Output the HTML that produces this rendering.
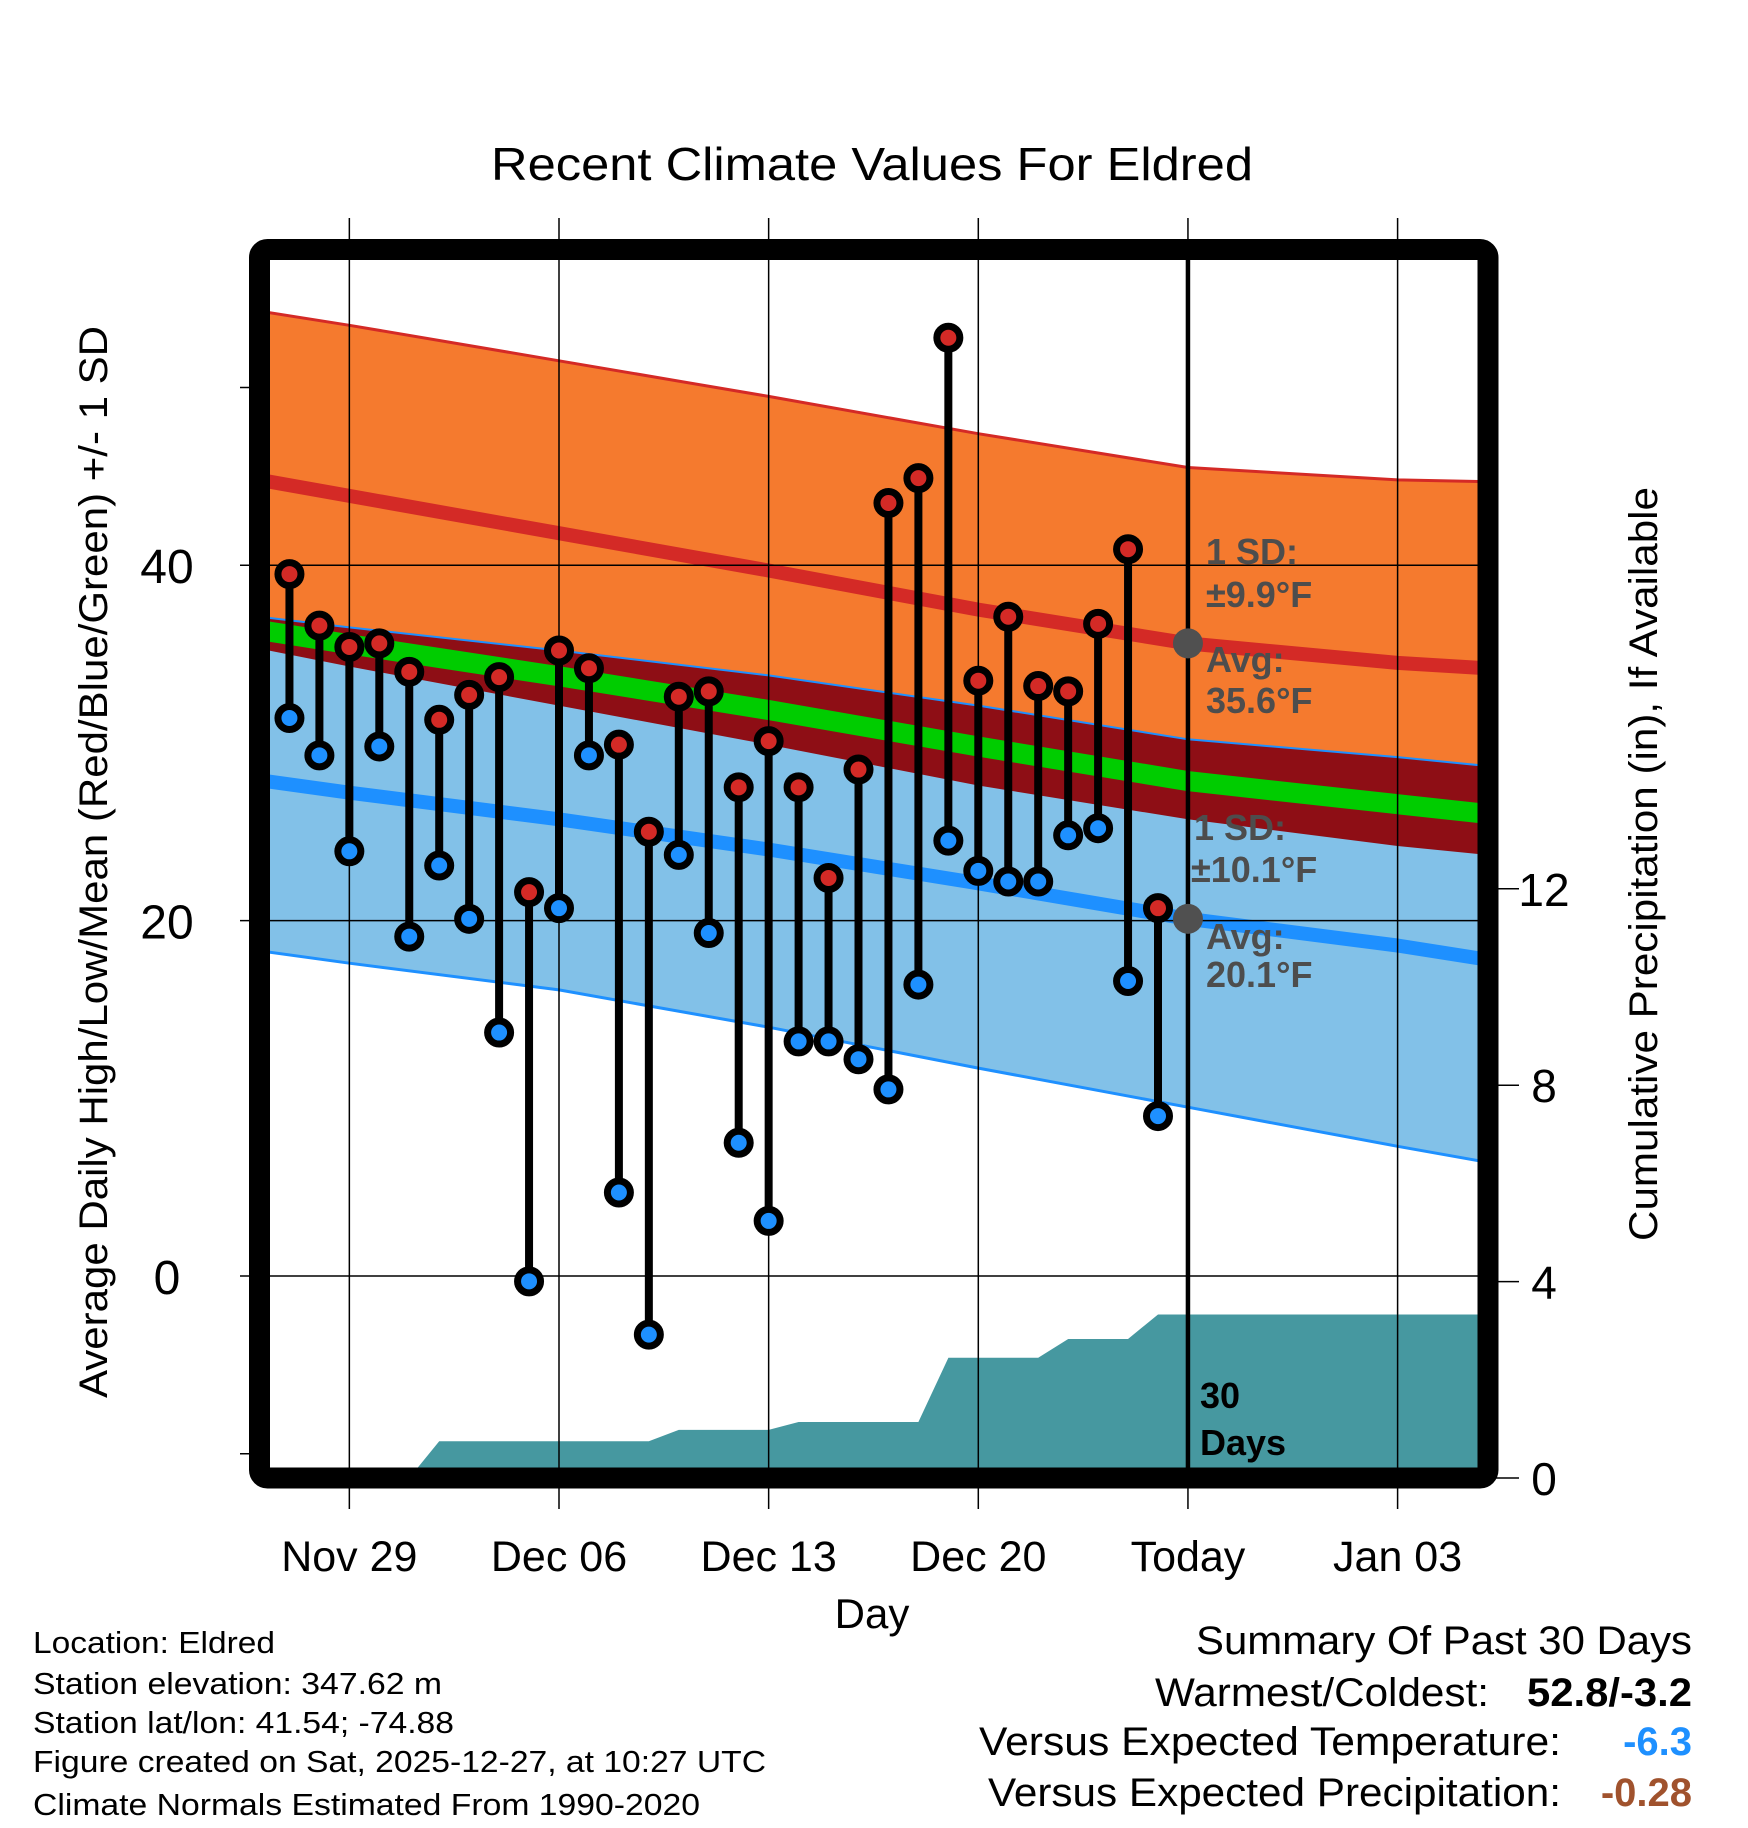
<!DOCTYPE html>
<html><head><meta charset="utf-8"><style>
html,body{margin:0;padding:0;background:#fff;}
svg{display:block;font-family:"Liberation Sans",Arial,sans-serif;}
</style></head><body>
<svg id="chart" width="1748" height="1828" viewBox="0 0 1748 1828" xmlns="http://www.w3.org/2000/svg">
<defs><clipPath id="plotclip"><rect x="270" y="260" width="1208" height="1208"/></clipPath></defs>
<rect x="0" y="0" width="1748" height="1828" fill="#fff"/>
<g id="bands" clip-path="url(#plotclip)"></g>
<g id="grid"></g>
<g id="marks" clip-path="url(#plotclip)"></g>
<text x="872" y="180" font-size="46" text-anchor="middle" textLength="762" lengthAdjust="spacingAndGlyphs">Recent Climate Values For Eldred</text>
<text transform="translate(107,862) rotate(-90)" font-size="40" text-anchor="middle" textLength="1072" lengthAdjust="spacingAndGlyphs">Average Daily High/Low/Mean (Red/Blue/Green) +/- 1 SD</text>
<text transform="translate(1657,864) rotate(-90)" font-size="40" text-anchor="middle" textLength="754" lengthAdjust="spacingAndGlyphs">Cumulative Precipitation (in), If Available</text>
<text x="872" y="1628" font-size="42" text-anchor="middle">Day</text>
<g font-size="31">
<text x="33" y="1653" textLength="242" lengthAdjust="spacingAndGlyphs">Location: Eldred</text>
<text x="33" y="1694" textLength="409" lengthAdjust="spacingAndGlyphs">Station elevation: 347.62 m</text>
<text x="33" y="1733" textLength="421" lengthAdjust="spacingAndGlyphs">Station lat/lon: 41.54; -74.88</text>
<text x="33" y="1772" textLength="733" lengthAdjust="spacingAndGlyphs">Figure created on Sat, 2025-12-27, at 10:27 UTC</text>
<text x="33" y="1815" textLength="667" lengthAdjust="spacingAndGlyphs">Climate Normals Estimated From 1990-2020</text>
</g>
<g font-size="40">
<text x="1692" y="1654" text-anchor="end" textLength="496" lengthAdjust="spacingAndGlyphs">Summary Of Past 30 Days</text>
<text x="1489" y="1706" text-anchor="end" textLength="334" lengthAdjust="spacingAndGlyphs">Warmest/Coldest:</text>
<text x="1692" y="1706" text-anchor="end" font-weight="bold" textLength="165" lengthAdjust="spacingAndGlyphs">52.8/-3.2</text>
<text x="1561" y="1755" text-anchor="end" textLength="582" lengthAdjust="spacingAndGlyphs">Versus Expected Temperature:</text>
<text x="1692" y="1755" text-anchor="end" font-weight="bold" fill="#1e90ff">-6.3</text>
<text x="1561" y="1806" text-anchor="end" textLength="573" lengthAdjust="spacingAndGlyphs">Versus Expected Precipitation:</text>
<text x="1692" y="1806" text-anchor="end" font-weight="bold" fill="#a0522d">-0.28</text>
</g>
<g id="annot" font-weight="bold" fill="#4d4d4d" font-size="36">
<text x="1206" y="564">1 SD:</text>
<text x="1206" y="607">±9.9°F</text>
<text x="1206" y="672">Avg:</text>
<text x="1206" y="713">35.6°F</text>
<text x="1194" y="840">1 SD:</text>
<text x="1191" y="882">±10.1°F</text>
<text x="1206" y="949">Avg:</text>
<text x="1206" y="987">20.1°F</text>
<text x="1200" y="1408" fill="#000">30</text>
<text x="1200" y="1455" fill="#000">Days</text>
</g>
<g id="topg"></g>
</svg>
<script>
// ---- data ----
const normDays = [0, 3, 10, 17, 24, 31, 38, 41];
const normHigh = [44.8, 43.9, 41.8, 39.7, 37.5, 35.6, 34.5, 34.2];
const highSD   = [9.5, 9.6, 9.7, 9.8, 9.9, 9.9, 10.3, 10.5];
const normLow  = [27.9, 27.2, 25.7, 24.0, 22.1, 20.1, 18.6, 17.8];
const lowSDUp  = [9.2, 9.3, 9.5, 9.8, 10.0, 10.1, 10.6, 10.9];
const lowSDDown = [9.6, 9.6, 9.6, 10.0, 10.4, 10.6, 11.3, 11.4];
const obsHigh = [39.5,36.6,35.4,35.6,34.0,31.3,32.7,33.7,21.6,35.2,34.2,29.9,25.0,32.6,32.9,27.5,30.1,27.5,22.4,28.5,43.5,44.9,52.8,33.5,37.1,33.2,32.9,36.7,40.9,20.7];
const obsLow  = [31.4,29.3,23.9,29.8,19.1,23.1,20.1,13.7,-0.3,20.7,29.3,4.7,-3.3,23.7,19.3,7.5,3.1,13.2,13.2,12.2,10.5,16.4,24.5,22.8,22.2,22.2,24.8,25.2,16.6,9.0];
const precipCum = [0,0,0,0,0,0.75,0.75,0.75,0.75,0.75,0.75,0.75,0.75,0.98,0.98,0.98,0.98,1.14,1.14,1.14,1.14,1.14,2.45,2.45,2.45,2.45,2.83,2.83,2.83,3.33];
const xTickDays = [3, 10, 17, 24, 31, 38];
const xTickLabels = ["Nov 29", "Dec 06", "Dec 13", "Dec 20", "Today", "Jan 03"];
const yTicks = [0, 20, 40];
const yMinor = [-10, 50];
const pTicks = [0, 4, 8, 12];
const todayDay = 31;
const todayHigh = 35.6, todayLow = 20.1;

// ---- scales ----
const X = d => 259.5 + 29.95 * d;
const Y = t => 1276 - 17.77 * t;
const P = v => 1478 - 49.1 * v;
const NS = "http://www.w3.org/2000/svg";
function mk(parent, tag, attrs) {
  const el = document.createElementNS(NS, tag);
  for (const k in attrs) el.setAttribute(k, attrs[k]);
  parent.appendChild(el);
  return el;
}
const pts = arr => arr.map(p => p[0].toFixed(1) + "," + p[1].toFixed(1)).join(" ");
function series(f) { return normDays.map((d, i) => [X(d), Y(f(i))]); }

const bands = document.getElementById("bands");
const grid = document.getElementById("grid");
const marks = document.getElementById("marks");
const topG = document.getElementById("topg");

const hiTop = series(i => normHigh[i] + highSD[i]);
const hiBot = series(i => normHigh[i] - highSD[i]);
let e = mk(bands, "polygon", {points: pts(hiTop.concat(hiBot.slice().reverse())), fill: "#f57a2e"});


const loTop = series(i => normLow[i] + lowSDUp[i]);
const loBot = series(i => normLow[i] - lowSDDown[i]);
e = mk(bands, "polygon", {points: pts(loTop.concat(loBot.slice().reverse())), fill: "#82c1e8"});


e = mk(bands, "polygon", {points: pts(loTop.concat(hiBot.slice().reverse())), fill: "#8e0e15"});


e = mk(bands, "polyline", {points: pts(loTop), fill: "none", stroke: "#1e90ff", "stroke-width": 2});


e = mk(bands, "polyline", {points: pts(loBot), fill: "none", stroke: "#1e90ff", "stroke-width": 3});


e = mk(bands, "polyline", {points: pts(hiTop), fill: "none", stroke: "#d42a26", "stroke-width": 3});


e = mk(bands, "polyline", {points: pts(series(i => (normHigh[i] + normLow[i]) / 2)), fill: "none", stroke: "#00cc00", "stroke-width": 20});


e = mk(bands, "polyline", {points: pts(series(i => normHigh[i])), fill: "none", stroke: "#d42a26", "stroke-width": 14});


e = mk(bands, "polyline", {points: pts(series(i => normLow[i])), fill: "none", stroke: "#1e90ff", "stroke-width": 14});



const pp = [[X(0), P(0)]];
precipCum.forEach((v, i) => pp.push([X(i + 1), P(v)]));
pp.push([X(42), P(precipCum[precipCum.length - 1])], [X(42), P(0)]);
e = mk(bands, "polygon", {points: pts(pp), fill: "#4698a0"});



yTicks.forEach(t => {
  e = mk(grid, "line", {x1: 240, x2: 1478, y1: Y(t), y2: Y(t), stroke: "#000", "stroke-width": 1.5});
  
  
  e = mk(grid, "text", {x: 167, y: Y(t) + 18, "font-size": 48, "text-anchor": "middle"});
  e.textContent = String(t);
  
  
});
yMinor.forEach(t => {
  e = mk(grid, "line", {x1: 240, x2: 262, y1: Y(t), y2: Y(t), stroke: "#000", "stroke-width": 1.5});
  
  
});
pTicks.forEach(v => {
  e = mk(grid, "line", {x1: 1488, x2: 1519, y1: P(v), y2: P(v), stroke: "#000", "stroke-width": 1.5});
  
  
  e = mk(grid, "text", {x: 1544, y: P(v) + 17, "font-size": 46, "text-anchor": "middle"});
  e.textContent = String(v);
  
  
});
xTickDays.forEach((d, i) => {
  e = mk(grid, "line", {x1: X(d), x2: X(d), y1: 218, y2: 1509, stroke: "#000", "stroke-width": 1.5});
  
  
  e = mk(grid, "text", {x: X(d), y: 1571, "font-size": 43, "text-anchor": "middle"});
  e.textContent = xTickLabels[i];
  
  
});
e = mk(grid, "line", {x1: X(todayDay), x2: X(todayDay), y1: 260, y2: 1468, stroke: "#000", "stroke-width": 4.5});



obsHigh.forEach((h, i) => {
  const x = X(i + 1);
  e = mk(marks, "line", {x1: x, x2: x, y1: Y(h), y2: Y(obsLow[i]), stroke: "#000", "stroke-width": 8});
  
  
});
obsHigh.forEach((h, i) => {
  const x = X(i + 1);
  e = mk(marks, "circle", {cx: x, cy: Y(obsLow[i]), r: 11.5, fill: "#1e90ff", stroke: "#000", "stroke-width": 7});
  
  
  e = mk(marks, "circle", {cx: x, cy: Y(h), r: 11.5, fill: "#d42a26", stroke: "#000", "stroke-width": 7});
  
  
});

e = mk(topG, "circle", {cx: X(todayDay), cy: Y(todayHigh), r: 15, fill: "#505050"});


e = mk(topG, "circle", {cx: X(todayDay), cy: Y(todayLow), r: 15, fill: "#505050"});



e = mk(topG, "rect", {x: 259.5, y: 249.5, width: 1228.5, height: 1228.5, rx: 8, fill: "none", stroke: "#000", "stroke-width": 21});


</script>
</body></html>
